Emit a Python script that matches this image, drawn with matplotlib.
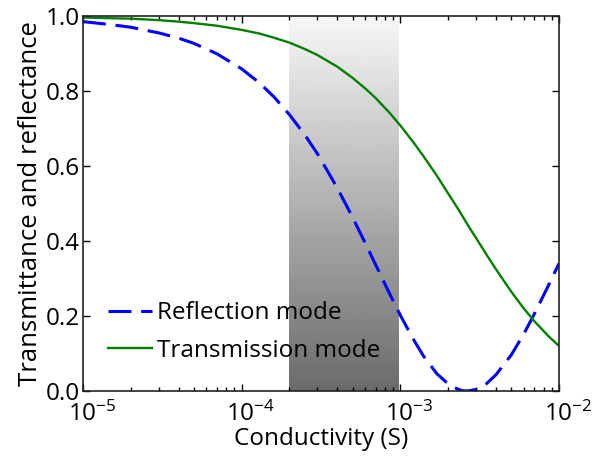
import numpy as np
import matplotlib
matplotlib.use('Agg')
import matplotlib.pyplot as plt
import matplotlib.transforms as mtransforms
from matplotlib.ticker import LogLocator

plt.rcParams['font.family'] = ['Open Sans', 'DejaVu Sans']
plt.rcParams['mathtext.default'] = 'regular'
plt.rcParams['font.size'] = 17.5

# ---------------------------------------------------------------- #

conductivity = [1e-5, 1.5e-5, 2e-5, 3e-5, 4e-5, 5e-5, 7e-5, 1e-4, 1.3e-4, 1.6e-4,
                2e-4, 2.5e-4, 3e-4, 4e-4, 5e-4, 6e-4, 7e-4, 8.5e-4, 1e-3, 1.2e-3,
                1.4e-3, 1.7e-3, 2e-3, 2.3e-3, 2.45e-3, 2.6e-3, 2.75e-3, 3e-3, 3.5e-3,
                4e-3, 5e-3, 6e-3, 7e-3, 8.5e-3, 1e-2]

reflection = [0.985, 0.977, 0.970, 0.955, 0.941, 0.927, 0.899, 0.859, 0.821, 0.784,
              0.737, 0.683, 0.633, 0.542, 0.463, 0.395, 0.336, 0.262, 0.202, 0.140,
              0.093, 0.046, 0.019, 0.005, 0.001, 0.000, 0.001, 0.004, 0.020,
              0.043, 0.096, 0.152, 0.206, 0.278, 0.340]

transmission = [0.996, 0.994, 0.993, 0.989, 0.985, 0.981, 0.974, 0.963, 0.953, 0.942,
                0.929, 0.912, 0.896, 0.865, 0.835, 0.807, 0.781, 0.743, 0.708, 0.665,
                0.626, 0.574, 0.527, 0.487, 0.468, 0.450, 0.433, 0.408, 0.363,
                0.325, 0.265, 0.220, 0.186, 0.148, 0.120]

band = (2e-4, 1e-3)

x_ticks = [1e-5, 1e-4, 1e-3, 1e-2]
x_ticklabels = ['$10^{-5}$', '$10^{-4}$', '$10^{-3}$', '$10^{-2}$']
y_ticks = [0.0, 0.2, 0.4, 0.6, 0.8, 1.0]
y_ticklabels = ['0.0', '0.2', '0.4', '0.6', '0.8', '1.0']

# ---------------------------------------------------------------- #

fig = plt.figure(figsize=(6.12, 4.57), dpi=100)
ax = fig.add_axes([83 / 612, 1 - 391 / 457, 476 / 612, 375 / 457])

ax.set_xscale('log')

gradient = np.linspace(0.42, 0.97, 256).reshape(-1, 1)
ax.imshow(gradient, extent=(band[0], band[1], 0, 1), origin='lower',
          aspect='auto', cmap='gray', vmin=0, vmax=1, zorder=0)

ax.plot(conductivity, reflection, color='blue', lw=2.2,
        dashes=(7.5, 3.2), label='Reflection mode', zorder=2)
ax.plot(conductivity, transmission, color='green', lw=1.7,
        label='Transmission mode', zorder=2)

ax.set_xlim(1e-5, 1e-2)
ax.set_ylim(0, 1)

ax.set_yticks(y_ticks)
ax.set_yticklabels(y_ticklabels)
ax.set_xticks(x_ticks)
ax.set_xticklabels(x_ticklabels)
ax.xaxis.set_minor_locator(LogLocator(base=10, subs=np.arange(2, 10)))
ax.xaxis.set_minor_formatter(plt.NullFormatter())

ax.tick_params(which='both', direction='in', top=True, right=True)
ax.tick_params(axis='x', which='major', pad=8)
ax.tick_params(axis='y', which='major', pad=2)
ax.tick_params(which='major', length=5, width=1)
ax.tick_params(which='minor', length=3, width=1)
ax.tick_params(axis='y', which='minor', left=False, right=False)

# base "10" centred on the tick, exponent hanging to the right
shift = mtransforms.ScaledTranslation(0.09, 0, fig.dpi_scale_trans)
for tick in ax.xaxis.get_major_ticks():
    tick.label1.set_transform(tick.label1.get_transform() + shift)

for s in ax.spines.values():
    s.set_linewidth(1.2)
    s.set_color('#222222')

ax.set_xlabel('Conductivity (S)', labelpad=0)
ax.set_ylabel('Transmittance and reflectance', fontsize=18.5, labelpad=2)

ax.legend(loc='lower left', bbox_to_anchor=(0.032, 0.05), frameon=False,
          handlelength=1.8, handletextpad=0.2, labelspacing=0.55,
          borderaxespad=0)

fig.savefig('out.png', dpi=100)
